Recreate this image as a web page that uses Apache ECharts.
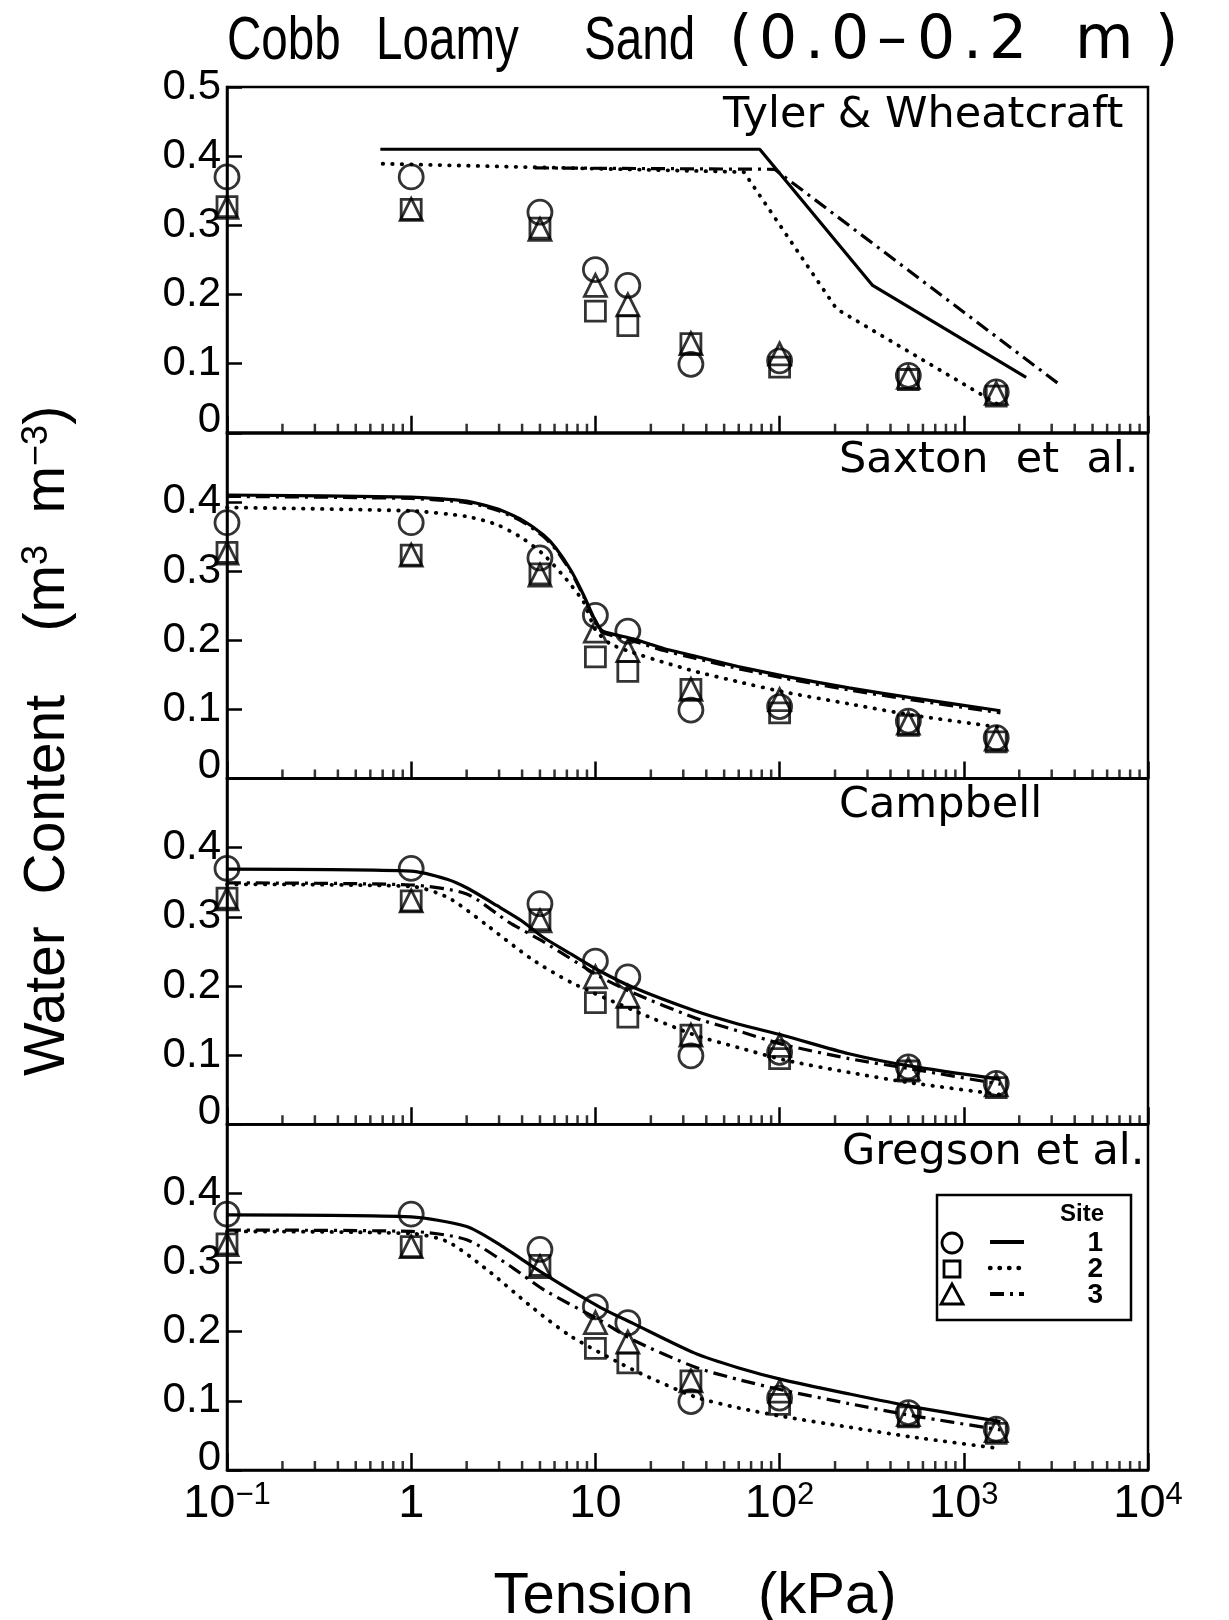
<!DOCTYPE html>
<html><head><meta charset="utf-8">
<script src="https://cdn.jsdelivr.net/npm/echarts@6/dist/echarts.min.js"></script>
<style>html,body{margin:0;padding:0;background:#fff}#c{width:1229px;height:1620px}</style>
</head><body><div id="c"></div>
<script>
// ---------- measured data (same in every panel) ----------
const tension = [0.1, 1, 5, 10, 15, 33, 100, 500, 1500];
const site1Measured = [0.370, 0.370, 0.319, 0.236, 0.213, 0.099, 0.104, 0.083, 0.059];
const site2Measured = [0.327, 0.323, 0.296, 0.176, 0.155, 0.129, 0.095, 0.077, 0.053];
const site3Measured = [0.326, 0.323, 0.294, 0.213, 0.185, 0.129, 0.114, 0.080, 0.057];

// ---------- Tyler & Wheatcraft ----------
const twTension1 = [0.68, 78, 320, 2180];
const twSite1    = [0.410, 0.410, 0.213, 0.080];
const twTension2 = [0.70, 64, 204, 1580];
const twSite2    = [0.389, 0.377, 0.179, 0.039];
const twTension3 = [4.7, 94, 3300];
const twSite3    = [0.383, 0.381, 0.070];

// ---------- Saxton et al. ----------
const sxTension1 = [0.1, 1, 2, 2.93, 3.99, 5.23, 6.11, 7.4, 8.64, 10, 11, 16, 23.5, 34.6, 59.4, 106, 238, 515, 1580];
const sxSite1    = [0.410, 0.407, 0.401, 0.390, 0.374, 0.352, 0.333, 0.300, 0.265, 0.228, 0.213, 0.202, 0.188, 0.177, 0.162, 0.148, 0.131, 0.117, 0.098];
const sxTension2 = [0.1, 1, 2, 2.93, 3.99, 5.23, 6.86, 8.64, 10, 12, 16, 23.5, 34.6, 59.4, 106, 238, 515, 1580];
const sxSite2    = [0.392, 0.387, 0.379, 0.367, 0.348, 0.324, 0.290, 0.255, 0.215, 0.195, 0.182, 0.168, 0.155, 0.140, 0.125, 0.108, 0.092, 0.074];
const sxTension3 = [0.1, 1, 2, 2.93, 3.99, 5.23, 6.11, 7.4, 8.64, 10, 11, 16, 23.5, 34.6, 59.4, 106, 238, 515, 1580];
const sxSite3    = [0.408, 0.405, 0.399, 0.388, 0.372, 0.350, 0.331, 0.298, 0.263, 0.226, 0.211, 0.199, 0.185, 0.174, 0.159, 0.145, 0.128, 0.114, 0.095];

// ---------- Campbell ----------
const cbTension1 = [0.1, 1, 1.58, 2, 2.93, 3.99, 5.23, 7.4, 10.5, 16, 34.6, 59.4, 106, 238, 515, 1580];
const cbSite1    = [0.369, 0.366, 0.354, 0.342, 0.316, 0.294, 0.270, 0.246, 0.222, 0.198, 0.164, 0.145, 0.128, 0.102, 0.084, 0.065];
const cbTension2 = [0.1, 1, 1.58, 2.6, 4.5, 7.4, 16, 34.6, 59.4, 106, 238, 515, 1580];
const cbSite2    = [0.347, 0.344, 0.328, 0.287, 0.239, 0.205, 0.165, 0.129, 0.111, 0.093, 0.075, 0.060, 0.043];
const cbTension3 = [0.1, 1, 2, 3.4, 5.3, 10.5, 16, 34.6, 59.4, 106, 238, 515, 1580];
const cbSite3    = [0.349, 0.346, 0.333, 0.292, 0.263, 0.214, 0.190, 0.154, 0.135, 0.115, 0.095, 0.080, 0.058];

// ---------- Gregson et al. ----------
const grTension1 = [0.1, 1, 2, 2.93, 5.23, 10.5, 16, 34.6, 59.4, 106, 238, 515, 1580];
const grSite1    = [0.369, 0.366, 0.352, 0.328, 0.284, 0.236, 0.212, 0.169, 0.148, 0.130, 0.110, 0.092, 0.070];
const grTension2 = [0.1, 1, 1.58, 2.6, 4.5, 7.4, 16, 34.6, 59.4, 106, 238, 515, 1580];
const grSite2    = [0.345, 0.342, 0.330, 0.289, 0.236, 0.193, 0.145, 0.106, 0.090, 0.077, 0.062, 0.048, 0.031];
const grTension3 = [0.1, 1, 2, 3.4, 5.3, 10.5, 16, 34.6, 59.4, 106, 238, 515, 1580];
const grSite3    = [0.347, 0.345, 0.333, 0.296, 0.260, 0.217, 0.188, 0.149, 0.131, 0.115, 0.096, 0.079, 0.058];

// ---------- axis / text ----------
const titleWords = ['Cobb ', 'Loamy ', 'Sand '];
const titleDepth = ['(', '0', '.', '0', '\u2013', '0', '.', '2 ', 'm', ')'];
const panelLabels = ['Tyler & Wheatcraft', 'Saxton  et  al.', 'Campbell', 'Gregson et al.'];
const xTickExponents = [-1, 0, 1, 2, 3, 4];
const minorTickValues = [
  0.2,0.3,0.4,0.5,0.6,0.7,0.8,0.9,
  2,3,4,5,6,7,8,9,
  20,30,40,50,60,70,80,90,
  200,300,400,500,600,700,800,900,
  2000,3000,4000,5000,6000,7000,8000,9000
];
const siteNames = ['1', '2', '3'];

// ---------- chart ----------
const FONT = '"Liberation Sans", Arial, sans-serif';
const FONT2 = '"DejaVu Sans", "Liberation Sans", sans-serif';
const chart = echarts.init(document.getElementById('c'), null, {renderer: 'canvas'});

const L = 227, W = 921, T0 = 87, H = 345.75;
const lineTypes = [
  {type: 'solid', width: 3.2, cap: 'butt'},
  {type: [0.5, 9], width: 3.8, cap: 'round'},
  {type: [14, 6, 3, 6], width: 3.2, cap: 'butt'}
];
const symbols = [
  {symbol: 'circle', size: 24},
  {symbol: 'rect', size: 20},
  {symbol: 'triangle', size: 22}
];
const measured = [site1Measured, site2Measured, site3Measured];
const modelLines = [
  [[twTension1, twSite1], [twTension2, twSite2], [twTension3, twSite3]],
  [[sxTension1, sxSite1], [sxTension2, sxSite2], [sxTension3, sxSite3]],
  [[cbTension1, cbSite1], [cbTension2, cbSite2], [cbTension3, cbSite3]],
  [[grTension1, grSite1], [grTension2, grSite2], [grTension3, grSite3]]
];
const smoothing = [false, 0.2, 0.25, 0.25];
const labelPos = [[723, 116], [839, 461], [839, 806], [842, 1153]];

const grids = [], xAxes = [], yAxes = [], series = [];
function pow10Label(v) {
  const e = Math.round(Math.log10(v));
  if (xTickExponents.indexOf(e) < 0) return '';
  if (e === 0) return '{b|1}';
  if (e === 1) return '{b|10}';
  return '{b|10}{s|' + (e < 0 ? '\u2212' + (-e) : e) + '}';
}
for (let p = 0; p < 4; p++) {
  grids.push({left: L, top: T0 + p * H, width: W, height: H, show: true,
    borderColor: '#000', borderWidth: 2.5, backgroundColor: 'transparent', containLabel: false});
  xAxes.push({
    type: 'log', logBase: 10, gridIndex: p, min: 0.1, max: 10000,
    axisLine: {show: true, lineStyle: {color: '#000', width: 2.5}},
    axisTick: {show: true, inside: true, length: 17, lineStyle: {color: '#000', width: 2.5}},
    splitLine: {show: false}, minorTick: {show: false},
    axisLabel: {show: p === 3, margin: 10, color: '#000', formatter: pow10Label,
      showMinLabel: true, showMaxLabel: true,
      rich: {
        b: {fontSize: 47, fontFamily: FONT, color: '#000', lineHeight: 48},
        s: {fontSize: 31, fontFamily: FONT, color: '#000', verticalAlign: 'top', lineHeight: 31}
      }}
  });
  yAxes.push({
    type: 'value', gridIndex: p, min: 0, max: 0.5, interval: 0.1,
    axisLine: {show: true, lineStyle: {color: '#000', width: 2.5}},
    axisTick: {show: true, inside: true, length: 15, lineStyle: {color: '#000', width: 2.5}},
    splitLine: {show: false},
    axisLabel: {show: true, margin: 6, color: '#000', fontSize: 42, fontFamily: FONT,
      showMinLabel: true, showMaxLabel: true,
      formatter: function (v) {
        if (Math.abs(v) < 1e-9) return '{z|0}';
        if (Math.abs(v - 0.5) < 1e-9 && p !== 0) return '';
        return v.toFixed(1);
      },
      rich: {z: {fontSize: 42, fontFamily: FONT, color: '#000', padding: [0, 0, 24, 0]}}}
  });
  modelLines[p].forEach(function (pair, s) {
    series.push({
      type: 'line', xAxisIndex: p, yAxisIndex: p, silent: true,
      data: pair[0].map(function (t, i) { return [t, pair[1][i]]; }),
      showSymbol: false, symbol: 'none', smooth: smoothing[p], clip: false,
      lineStyle: Object.assign({color: '#000'}, lineTypes[s]), z: 2
    });
  });
  measured.forEach(function (vals, s) {
    series.push({
      type: 'scatter', xAxisIndex: p, yAxisIndex: p, silent: true, clip: false,
      data: tension.map(function (t, i) { return [t, vals[i]]; }),
      symbol: symbols[s].symbol, symbolSize: symbols[s].size,
      itemStyle: {color: 'rgba(0,0,0,0)', borderColor: '#000', borderWidth: 2.8}, z: 3
    });
  });
  series.push({
    type: 'scatter', xAxisIndex: p, yAxisIndex: p, silent: true, clip: false,
    data: minorTickValues.map(function (v) { return [v, 0]; }),
    symbol: 'rect', symbolSize: [2.5, 9], symbolOffset: [0, -4.5],
    itemStyle: {color: '#000'}, z: 4
  });
}

const graphics = [];
// title part 1: condensed words
const TSX = 0.78;
const wordAdvance = [149, 208, 145];
const richA = {};
let textA = '';
titleWords.forEach(function (w, i) {
  richA['w' + i] = {fontSize: 61, fontFamily: FONT, fill: '#000', width: wordAdvance[i] / TSX, align: 'left'};
  textA += '{w' + i + '|' + w + '}';
});
graphics.push({type: 'text', x: 227, y: 42, scaleX: TSX, silent: true,
  style: {text: textA, rich: richA, fontSize: 61, fontFamily: FONT, fill: '#000', align: 'left', verticalAlign: 'middle'}});
// title part 2: depth range, wide plotter-style digits
const depthAdvance = [30, 46, 26, 46, 40, 46, 26, 86, 80, 30];
const richB = {};
let textB = '';
titleDepth.forEach(function (c, i) {
  richB['d' + i] = {fontSize: 60, fontFamily: FONT2, fill: '#000', width: depthAdvance[i], align: 'left'};
  textB += '{d' + i + '|' + c + '}';
});
graphics.push({type: 'text', x: 729, y: 42, silent: true,
  style: {text: textB, rich: richB, fontSize: 60, fontFamily: FONT2, fill: '#000', align: 'left', verticalAlign: 'middle'}});
// panel labels
panelLabels.forEach(function (t, p) {
  graphics.push({type: 'text', x: labelPos[p][0], y: labelPos[p][1], silent: true,
    style: {text: t, fontSize: 43, fontFamily: FONT2, fill: '#000', align: 'left', verticalAlign: 'middle'}});
});
// x axis title
graphics.push({type: 'text', x: 695, y: 1597, silent: true,
  style: {text: 'Tension    (kPa)', fontSize: 58, fontFamily: FONT, fill: '#000', align: 'center', verticalAlign: 'middle'}});
// y axis title
graphics.push({type: 'text', x: 48, y: 741, rotation: Math.PI / 2, silent: true,
  style: {text: 'Water  Content    (m{s|3}  m{s|\u22123})', fontSize: 57, fontFamily: FONT, fill: '#000',
    align: 'center', verticalAlign: 'middle',
    rich: {s: {fontSize: 36, fontFamily: FONT, fill: '#000', verticalAlign: 'top', lineHeight: 36}}}});
// legend box
const LX = 937, LY = 1195;
graphics.push({type: 'rect', silent: true, shape: {x: LX, y: LY, width: 194, height: 125},
  style: {fill: '#fff', stroke: '#000', lineWidth: 2.5}, z: 10});
graphics.push({type: 'text', x: 1104, y: 1214, silent: true, z: 11,
  style: {text: 'Site', fontSize: 24, fontWeight: 'bold', fontFamily: FONT, fill: '#000', align: 'right', verticalAlign: 'middle'}});
const rowY = [1243, 1269, 1295];
graphics.push({type: 'circle', silent: true, z: 11, shape: {cx: 952, cy: rowY[0], r: 10},
  style: {fill: 'none', stroke: '#000', lineWidth: 2.8}});
graphics.push({type: 'rect', silent: true, z: 11, shape: {x: 944, y: rowY[1] - 8, width: 16, height: 16},
  style: {fill: 'none', stroke: '#000', lineWidth: 2.8}});
graphics.push({type: 'polygon', silent: true, z: 11, shape: {points: [[952, rowY[2] - 11], [963, rowY[2] + 9], [941, rowY[2] + 9]]},
  style: {fill: 'none', stroke: '#000', lineWidth: 2.8}});
lineTypes.forEach(function (lt, s) {
  graphics.push({type: 'line', silent: true, z: 11, shape: {x1: 990, y1: rowY[s] - 1, x2: 1024, y2: rowY[s] - 1},
    style: {stroke: '#000', lineWidth: lt.width + 0.6, lineDash: lt.type === 'solid' ? null : lt.type, lineCap: lt.cap}});
  graphics.push({type: 'text', x: 1103, y: rowY[s], silent: true, z: 11,
    style: {text: siteNames[s], fontSize: 28, fontWeight: 'bold', fontFamily: FONT, fill: '#000', align: 'right', verticalAlign: 'middle'}});
});

chart.setOption({
  animation: false,
  backgroundColor: '#fff',
  grid: grids, xAxis: xAxes, yAxis: yAxes, series: series,
  graphic: {elements: graphics}
});
</script></body></html>
